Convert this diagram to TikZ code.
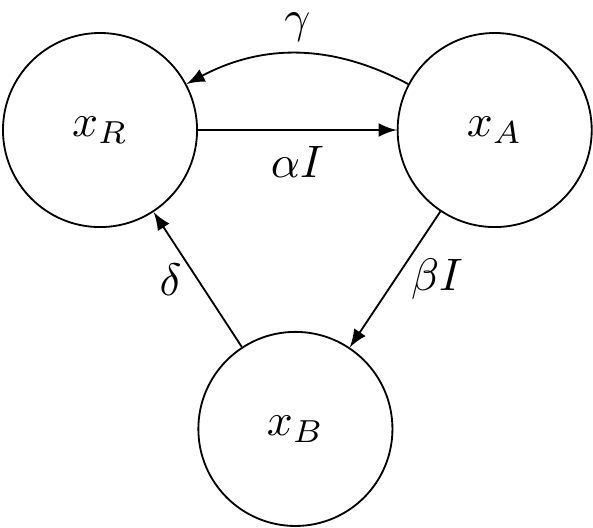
\documentclass[tikz,border=0pt]{standalone}
\usepackage{amsmath, amssymb}
\usepackage{tikz}

\begin{document}
\begin{tikzpicture}[state/.style={draw, circle, minimum size=1.5cm}, >=latex]
        \useasboundingbox (-0.773,-3.07) rectangle (3.81,1.005);
        % Compartments
        \node[state] (xR) at (0,0) {$x_R$};
        \node[state] (xA) at (3.05,0) {$x_A$};
        \node[state] (xB) at (1.51,-2.31) {$x_B$};
        % Transitions
        \draw[->] (xR) -- node[below] {$\alpha I$} (xA);
        \draw[->] (xA) to[bend right=28] node[above, inner sep=2.5pt] {$\gamma$} (xR);
        \draw[->] (xA) -- node[right] {$\beta I$} (xB);
        \draw[->] (xB) -- node[left] {$\delta$} (xR);
      \end{tikzpicture}
\end{document}
